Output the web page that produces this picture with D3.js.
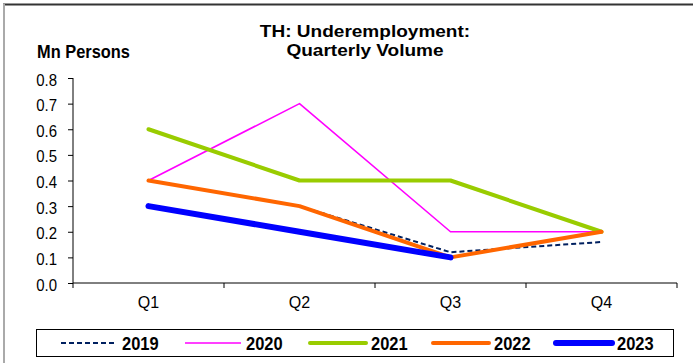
<!DOCTYPE html>
<html><head><meta charset="utf-8">
<script src="https://cdn.jsdelivr.net/npm/d3@7"></script>
<style>body{margin:0;background:#fff}svg{display:block;font-family:"Liberation Sans",Arial,sans-serif}</style>
</head><body>
<script>
const categories = ["Q1","Q2","Q3","Q4"];
const years = ["2019","2020","2021","2022","2023"];
const s2019 = [0.4, 0.3, 0.12, 0.16];
const s2020 = [0.4, 0.7, 0.2, 0.2];
const s2021 = [0.6, 0.4, 0.4, 0.2];
const s2022 = [0.4, 0.3, 0.1, 0.2];
const s2023 = [0.3, 0.2, 0.1, null];
const yTicks = [0,0.1,0.2,0.3,0.4,0.5,0.6,0.7,0.8];

const series = [
  {name:years[0], values:s2019, color:"#002060", width:2, dash:"5,3"},
  {name:years[1], values:s2020, color:"#FF00FF", width:1.6, dash:null},
  {name:years[2], values:s2021, color:"#99CC00", width:4, dash:null},
  {name:years[3], values:s2022, color:"#FF6600", width:4, dash:null},
  {name:years[4], values:s2023, color:"#0000FF", width:6, dash:null}
];

const W=693,H=363;
const svg=d3.select("body").append("svg").attr("width",W).attr("height",H);
// frame
svg.append("line").attr("x1",3).attr("x2",W).attr("y1",4.5).attr("y2",4.5).attr("stroke","#333").attr("stroke-width",2);
svg.append("line").attr("x1",4).attr("x2",4).attr("y1",4).attr("y2",H).attr("stroke","#aaa").attr("stroke-width",2);

const x=d3.scaleBand().domain(categories).range([73,677]);
const y=d3.scaleLinear().domain([0,0.8]).range([283,78]);

// y axis
const ya=svg.append("g").attr("transform","translate(73,0)")
  .call(d3.axisLeft(y).tickValues(yTicks).tickFormat(d3.format(".1f")).tickSize(5).tickPadding(11));
ya.select(".domain").attr("d","M0,78V283").attr("stroke","#000");
ya.selectAll("text").attr("font-size",15).attr("fill","#000").attr("dy",null)
  .attr("transform","translate(0,7) scale(1,1.15)")
  .attr("font-family","Liberation Sans, Arial, sans-serif");

// x axis
const xa=svg.append("g").attr("transform","translate(0,283)");
xa.append("line").attr("x1",73).attr("x2",677).attr("stroke","#000");
const bounds=categories.map(c=>x(c)).concat([x.range()[1]]);
xa.selectAll("line.t").data(bounds).join("line").attr("class","t")
  .attr("x1",d=>d).attr("x2",d=>d).attr("y1",0).attr("y2",5).attr("stroke","#000");
xa.selectAll("text").data(categories).join("text")
  .attr("x",d=>x(d)+x.bandwidth()/2).attr("y",25).attr("text-anchor","middle")
  .attr("font-size",16).text(d=>d);

// lines
const line=d3.line().defined(d=>d.v!=null).x(d=>x(d.c)+x.bandwidth()/2).y(d=>y(d.v));
series.forEach(s=>{
  svg.append("path").datum(categories.map((c,i)=>({c,v:s.values[i]})))
    .attr("d",line).attr("fill","none").attr("stroke",s.color).attr("stroke-width",s.width)
    .attr("stroke-dasharray",s.dash).attr("stroke-linejoin","round")
    .attr("stroke-linecap",s.width>=4?"round":"butt");
});

// titles
svg.append("text").attr("transform","translate(365,37) scale(1.12,1)").attr("text-anchor","middle").attr("font-weight","bold").attr("font-size",17).text("TH: Underemployment:");
svg.append("text").attr("transform","translate(365,56) scale(1.12,1)").attr("text-anchor","middle").attr("font-weight","bold").attr("font-size",17).text("Quarterly Volume");
svg.append("text").attr("transform","translate(37,58) scale(1,1.13)").attr("font-weight","bold").attr("font-size",16.4).text("Mn Persons");

// legend
svg.append("rect").attr("x",36.5).attr("y",329.5).attr("width",637).attr("height",27).attr("fill","none").attr("stroke","#000");
const lx=[61,185,310,433,556];
series.forEach((s,i)=>{
  svg.append("line").attr("x1",lx[i]).attr("x2",lx[i]+56).attr("y1",343).attr("y2",343)
    .attr("stroke",s.color).attr("stroke-width",s.width).attr("stroke-dasharray",s.dash)
    .attr("stroke-linecap",s.width>=4?"round":"butt");
  svg.append("text").attr("transform",`translate(${lx[i]+61},350) scale(1,1.12)`)
    .attr("font-weight","bold").attr("font-size",16.5).text(s.name);
});
</script>
</body></html>
